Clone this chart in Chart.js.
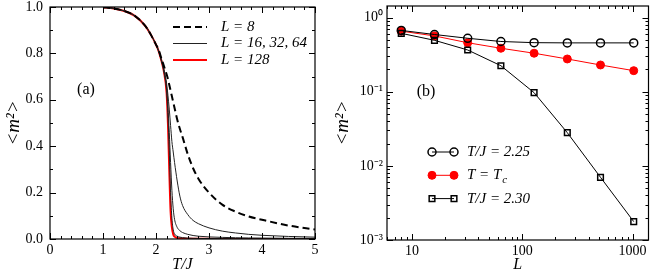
<!DOCTYPE html>
<html>
<head>
<meta charset="utf-8">
<script src="https://cdn.jsdelivr.net/npm/chart.js@4.4.0/dist/chart.umd.min.js"></script>
<style>
  html, body { margin: 0; padding: 0; background: #fff; }
  #wrap { position: relative; width: 654px; height: 274px; }
  canvas { position: absolute; top: 0; }
</style>
</head>
<body>
<div id="wrap">
  <canvas id="left" width="327" height="274" style="left:0"></canvas>
  <canvas id="right" width="327" height="274" style="left:327px"></canvas>
</div>
<script>
// panel (a): <m^2> vs T/J
const temps = [1.0, 1.2, 1.4, 1.6, 1.8, 1.9, 2.0, 2.05, 2.1, 2.15, 2.2, 2.225, 2.25, 2.275, 2.3, 2.325, 2.35, 2.4, 2.45, 2.5, 2.6, 2.7, 2.8, 3.0, 3.25, 3.5, 3.75, 4.0, 4.5, 5.0];
const mL8   = [0.999, 0.994, 0.983, 0.962, 0.918, 0.882, 0.838, 0.815, 0.78, 0.745, 0.71, 0.69, 0.665, 0.64, 0.615, 0.59, 0.565, 0.515, 0.475, 0.44, 0.365, 0.305, 0.26, 0.2, 0.148, 0.118, 0.097, 0.083, 0.058, 0.041];
const mL16  = [0.999, 0.994, 0.983, 0.962, 0.918, 0.882, 0.838, 0.81, 0.775, 0.73, 0.67, 0.62, 0.56, 0.49, 0.42, 0.375, 0.33, 0.25, 0.185, 0.145, 0.105, 0.08, 0.066, 0.048, 0.034, 0.026, 0.02, 0.016, 0.011, 0.008];
const mL32  = [0.999, 0.994, 0.983, 0.962, 0.918, 0.882, 0.838, 0.81, 0.77, 0.725, 0.65, 0.57, 0.46, 0.33, 0.21, 0.13, 0.085, 0.05, 0.036, 0.028, 0.02, 0.015, 0.012, 0.009, 0.007, 0.0055, 0.0045, 0.004, 0.003, 0.0025];
const mL64  = [0.999, 0.994, 0.983, 0.962, 0.918, 0.882, 0.838, 0.81, 0.77, 0.72, 0.64, 0.53, 0.38, 0.2, 0.09, 0.04, 0.022, 0.012, 0.008, 0.006, 0.004, 0.003, 0.0025, 0.002, 0.0015, 0.0012, 0.001, 0.0009, 0.0007, 0.0006];
const mL128 = [0.999, 0.994, 0.983, 0.962, 0.918, 0.882, 0.838, 0.81, 0.77, 0.72, 0.63, 0.5, 0.3, 0.12, 0.05, 0.02, 0.01, 0.005, 0.003, 0.002, 0.0015, 0.001, 0.0008, 0.0006, 0.0005, 0.0004, 0.0003, 0.0003, 0.0002, 0.0002];
const keyA = ['L = 8', 'L = 16, 32, 64', 'L = 128'];

// panel (b): <m^2> vs L
const sizes = [8, 16, 32, 64, 128, 256, 512, 1024];
const m225 = [0.67, 0.59, 0.525, 0.475, 0.458, 0.455, 0.455, 0.455];
const mTc  = [0.655, 0.565, 0.457, 0.385, 0.33, 0.276, 0.229, 0.192];
const m230 = [0.612, 0.493, 0.365, 0.224, 0.097, 0.028, 0.007, 0.00177];
const keyB = ['T/J = 2.25', 'T = T_c', 'T/J = 2.30'];

const SERIF = "'Liberation Serif', 'Times New Roman', serif";
Chart.defaults.font.family = SERIF;
Chart.defaults.font.size = 14;
Chart.defaults.color = '#000';

function pts(xs, ys) {
  return xs.map((x, i) => ({ x: x, y: ys[i] }));
}

function linearTicks(min, max, step, every) {
  const out = [];
  const n = Math.round((max - min) / step);
  for (let i = 0; i <= n; i++) out.push({ v: min + i * step, major: i % every === 0 });
  return out;
}

function logTicks(min, max) {
  const out = [];
  for (let e = Math.floor(Math.log10(min)); e <= Math.ceil(Math.log10(max)); e++) {
    for (let k = 1; k <= 9; k++) {
      const v = k * Math.pow(10, e);
      if (v >= min && v <= max) out.push({ v: v, major: k === 1 });
    }
  }
  return out;
}

const SUP = { '-': '\u207B', '0': '\u2070', '1': '\u00B9', '2': '\u00B2', '3': '\u00B3' };
function powLabel(v) {
  const e = Math.log10(v);
  if (Math.abs(e - Math.round(e)) > 1e-6) return '';
  return '10' + String(Math.round(e)).split('').map(c => SUP[c]).join('');
}

// box with inward ticks on all four sides
const framePlugin = {
  id: 'frame',
  afterDatasetsDraw(chart, args, opts) {
    const { ctx, chartArea: a } = chart;
    const sx = chart.scales.x, sy = chart.scales.y;
    ctx.save();
    ctx.strokeStyle = '#000';
    ctx.lineWidth = 1;
    ctx.setLineDash([]);
    ctx.beginPath();
    opts.xTicks.forEach(t => {
      const px = Math.round(sx.getPixelForValue(t.v)) + 0.5;
      const len = t.major ? 6 : 3;
      ctx.moveTo(px, a.bottom); ctx.lineTo(px, a.bottom - len);
      ctx.moveTo(px, a.top); ctx.lineTo(px, a.top + len);
    });
    opts.yTicks.forEach(t => {
      const py = Math.round(sy.getPixelForValue(t.v)) + 0.5;
      const len = t.major ? 6 : 3;
      ctx.moveTo(a.left, py); ctx.lineTo(a.left + len, py);
      ctx.moveTo(a.right, py); ctx.lineTo(a.right - len, py);
    });
    ctx.stroke();
    ctx.lineWidth = 1.2;
    ctx.strokeRect(a.left, a.top, a.right - a.left, a.bottom - a.top);
    ctx.restore();
  }
};

// legend drawn inside the plot + panel tag
const keyPlugin = {
  id: 'key',
  afterDraw(chart, args, opts) {
    const ctx = chart.ctx;
    ctx.save();
    ctx.textBaseline = 'middle';
    opts.items.forEach((idx, row) => {
      const ds = chart.data.datasets[idx];
      const y = opts.y + row * opts.dy;
      ctx.strokeStyle = ds.borderColor;
      ctx.lineWidth = ds.borderWidth;
      ctx.setLineDash(ds.borderDash || []);
      ctx.beginPath();
      ctx.moveTo(opts.x0, y);
      ctx.lineTo(opts.x1, y);
      ctx.stroke();
      ctx.setLineDash([]);
      if (opts.markers) {
        ctx.fillStyle = ds.pointBackgroundColor;
        ctx.strokeStyle = ds.pointBorderColor;
        ctx.lineWidth = ds.pointBorderWidth;
        const p = { pointStyle: ds.pointStyle, radius: ds.pointRadius, borderWidth: ds.pointBorderWidth, rotation: 0 };
        Chart.helpers.drawPoint(ctx, p, opts.x0, y);
        Chart.helpers.drawPoint(ctx, p, opts.x1, y);
      }
      const parts = opts.labels[row].split('_');
      ctx.fillStyle = '#000';
      ctx.font = 'italic 15px ' + SERIF;
      ctx.fillText(parts[0], opts.tx, y);
      if (parts[1]) {
        const w = ctx.measureText(parts[0]).width;
        ctx.font = 'italic 11px ' + SERIF;
        ctx.fillText(parts[1], opts.tx + w + 1, y + 5);
      }
    });
    ctx.font = '16px ' + SERIF;
    ctx.fillStyle = '#000';
    ctx.textAlign = 'center';
    ctx.fillText(opts.tag.text, opts.tag.x, opts.tag.y);
    ctx.restore();
  }
};

const titleFont = { family: SERIF, size: 16, style: 'italic' };
const yTitleFont = { family: SERIF, size: 19, style: 'italic' };

new Chart(document.getElementById('left'), {
  type: 'line',
  data: {
    datasets: [
      { label: 'L = 8', data: pts(temps, mL8), borderColor: '#000', borderWidth: 2, borderDash: [7, 4] },
      { label: 'L = 16', data: pts(temps, mL16), borderColor: '#222', borderWidth: 1 },
      { label: 'L = 32', data: pts(temps, mL32), borderColor: '#222', borderWidth: 1 },
      { label: 'L = 64', data: pts(temps, mL64), borderColor: '#222', borderWidth: 1 },
      { label: 'L = 128', data: pts(temps, mL128), borderColor: '#ff0000', borderWidth: 2 }
    ]
  },
  options: {
    responsive: false,
    animation: false,
    layout: { padding: { left: 0, top: 7, right: 12, bottom: 0 } },
    elements: { point: { radius: 0 }, line: { cubicInterpolationMode: 'monotone', fill: false } },
    scales: {
      x: {
        type: 'linear', min: 0, max: 5,
        grid: { display: false, drawTicks: false },
        border: { display: false },
        ticks: { stepSize: 1, padding: 3 },
        title: { display: true, text: 'T/J', font: titleFont, padding: { top: 0, bottom: 0 } },
        afterFit(s) { s.height = 35; }
      },
      y: {
        min: 0, max: 1,
        grid: { display: false, drawTicks: false },
        border: { display: false },
        ticks: { stepSize: 0.2, padding: 7, callback: v => v.toFixed(1) },
        title: { display: true, text: '<m\u00B2>', font: yTitleFont, padding: { top: 3, bottom: 0 } },
        afterFit(s) { s.width = 50; s.paddingTop = 0; s.paddingBottom = 0; }
      }
    },
    plugins: {
      legend: { display: false },
      tooltip: { enabled: false },
      frame: { xTicks: linearTicks(0, 5, 0.2, 5), yTicks: linearTicks(0, 1, 0.1, 2) },
      key: { items: [0, 1, 4], labels: keyA, x0: 173, x1: 207, tx: 221, y: 27, dy: 16.5, markers: false,
             tag: { text: '(a)', x: 86, y: 90 } }
    }
  },
  plugins: [framePlugin, keyPlugin]
});

const xMinB = 5.94, xMaxB = 1394, yMinB = 0.001, yMaxB = 1.43;

new Chart(document.getElementById('right'), {
  type: 'line',
  data: {
    datasets: [
      { label: keyB[0], data: pts(sizes, m225), borderColor: '#000', borderWidth: 1,
        pointStyle: 'circle', pointRadius: 4, pointBorderWidth: 1.5,
        pointBorderColor: '#000', pointBackgroundColor: 'rgba(0,0,0,0)' },
      { label: keyB[2], data: pts(sizes, m230), borderColor: '#000', borderWidth: 1,
        pointStyle: 'rect', pointRadius: 4, pointBorderWidth: 1.5,
        pointBorderColor: '#000', pointBackgroundColor: 'rgba(0,0,0,0)' },
      { label: keyB[1], data: pts(sizes, mTc), borderColor: '#ff0000', borderWidth: 1,
        pointStyle: 'circle', pointRadius: 4, pointBorderWidth: 1,
        pointBorderColor: '#ff0000', pointBackgroundColor: '#ff0000' }
    ]
  },
  options: {
    responsive: false,
    animation: false,
    layout: { padding: { left: 0, top: 6, right: 4, bottom: 0 } },
    elements: { line: { tension: 0, fill: false } },
    scales: {
      x: {
        type: 'logarithmic', min: xMinB, max: xMaxB,
        grid: { display: false, drawTicks: false },
        border: { display: false },
        ticks: { autoSkip: false, maxRotation: 0, padding: 3,
                 callback: v => (v === 10 || v === 100 || v === 1000) ? String(v) : '' },
        title: { display: true, text: 'L', font: titleFont, padding: { top: 0, bottom: 0 } },
        afterFit(s) { s.height = 34; s.paddingLeft = 0; s.paddingRight = 0; }
      },
      y: {
        type: 'logarithmic', min: yMinB, max: yMaxB,
        grid: { display: false, drawTicks: false },
        border: { display: false },
        ticks: { autoSkip: false, padding: 4, callback: v => powLabel(v) },
        title: { display: true, text: '<m\u00B2>', font: yTitleFont, padding: { top: 5, bottom: 0 } },
        afterFit(s) { s.width = 60; s.paddingTop = 0; s.paddingBottom = 0; }
      }
    },
    plugins: {
      legend: { display: false },
      tooltip: { enabled: false },
      frame: { xTicks: logTicks(xMinB, xMaxB), yTicks: logTicks(yMinB, yMaxB) },
      key: { items: [0, 2, 1], labels: keyB, x0: 105, x1: 127, tx: 140, y: 152, dy: 23.3, markers: true,
             tag: { text: '(b)', x: 99, y: 92 } }
    }
  },
  plugins: [framePlugin, keyPlugin]
});
</script>
</body>
</html>
